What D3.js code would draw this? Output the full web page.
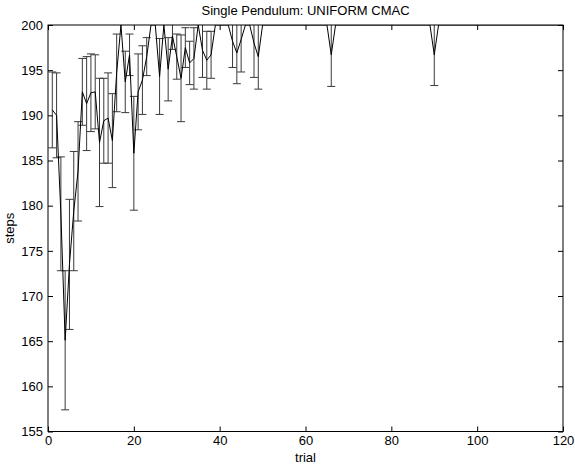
<!DOCTYPE html>
<html>
<head>
<meta charset="utf-8">
<script src="https://cdn.jsdelivr.net/npm/d3@7"></script>
<style>
  html, body { margin: 0; padding: 0; background: #fff; }
  svg text { font-family: "Liberation Sans", Arial, Helvetica, sans-serif; fill: #000; }
</style>
</head>
<body>
<svg id="chart" width="575" height="466"></svg>
<script>
// ---- data ----
const title = "Single Pendulum: UNIFORM CMAC";
const xLabel = "trial";
const yLabel = "steps";
const xTicks = [0, 20, 40, 60, 80, 100, 120];
const yTicks = [155, 160, 165, 170, 175, 180, 185, 190, 195, 200];

// mean steps per trial (trial 1..120)
const meanSteps = [
  190.6, 190.0, 179.1, 165.1, 173.5, 179.4, 183.8, 192.6, 191.3, 192.5,
  192.6, 187.0, 189.4, 189.7, 187.2, 194.7, 200, 193.7, 196.7, 185.8,
  192.6, 193.9, 196.5, 200, 200, 194.3, 200, 195.1, 198.8, 196.5,
  194.1, 197.5, 195.8, 196.3, 200, 197.2, 196.1, 196.7, 200, 200,
  200, 200, 198.2, 196.9, 198.4, 200, 200, 198.0, 196.5, 200,
  200, 200, 200, 200, 200, 200, 200, 200, 200, 200,
  200, 200, 200, 200, 200, 196.7, 200, 200, 200, 200,
  200, 200, 200, 200, 200, 200, 200, 200, 200, 200,
  200, 200, 200, 200, 200, 200, 200, 200, 200, 196.7,
  200, 200, 200, 200, 200, 200, 200, 200, 200, 200,
  200, 200, 200, 200, 200, 200, 200, 200, 200, 200,
  200, 200, 200, 200, 200, 200, 200, 200, 200, 200
];
// error (half bar length) per trial
const errSteps = [
  4.2, 4.7, 6.3, 7.7, 7.2, 6.6, 5.5, 3.7, 5.2, 4.3,
  4.1, 7.1, 4.7, 5.0, 5.2, 4.3, 0, 3.4, 2.3, 6.3,
  4.2, 3.8, 2.1, 0, 0, 4.2, 0, 3.5, 1.5, 2.5,
  4.8, 2.2, 2.4, 3.4, 0, 3.0, 3.2, 2.6, 0, 0,
  0, 0, 2.9, 3.4, 3.6, 0, 0, 3.8, 3.6, 0,
  0, 0, 0, 0, 0, 0, 0, 0, 0, 0,
  0, 0, 0, 0, 0, 3.5, 0, 0, 0, 0,
  0, 0, 0, 0, 0, 0, 0, 0, 0, 0,
  0, 0, 0, 0, 0, 0, 0, 0, 0, 3.4,
  0, 0, 0, 0, 0, 0, 0, 0, 0, 0,
  0, 0, 0, 0, 0, 0, 0, 0, 0, 0,
  0, 0, 0, 0, 0, 0, 0, 0, 0, 0
];

const rows = meanSteps.map((m, i) => ({ trial: i + 1, mean: m, err: errSteps[i] }));

// ---- layout ----
const svg = d3.select("#chart");
const mLeft = 48, mRight = 563, mTop = 25, mBottom = 431.5;
const x = d3.scaleLinear().domain([0, 120]).range([mLeft, mRight]);
const y = d3.scaleLinear().domain([155, 200]).range([mBottom, mTop]);

svg.append("defs").append("clipPath").attr("id", "plotclip")
  .append("rect").attr("x", mLeft).attr("y", mTop)
  .attr("width", mRight - mLeft).attr("height", mBottom - mTop);

const plot = svg.append("g").attr("clip-path", "url(#plotclip)");

// error bars
const capHalf = 4;
const eb = plot.append("g").attr("stroke", "#3a3a3a").attr("stroke-width", 1).attr("fill", "none");
rows.filter(d => d.err > 0).forEach(d => {
  const cx = x(d.trial);
  const y1 = y(d.mean + d.err), y0 = y(d.mean - d.err);
  eb.append("line").attr("x1", cx).attr("x2", cx).attr("y1", y1).attr("y2", y0);
  eb.append("line").attr("x1", cx - capHalf).attr("x2", cx + capHalf).attr("y1", y1).attr("y2", y1);
  eb.append("line").attr("x1", cx - capHalf).attr("x2", cx + capHalf).attr("y1", y0).attr("y2", y0);
});

// mean line
plot.append("path").datum(rows)
  .attr("fill", "none").attr("stroke", "#000").attr("stroke-width", 1)
  .attr("d", d3.line().x(d => x(d.trial)).y(d => y(d.mean)));

// ---- axes (MATLAB-style box with inward ticks on all sides) ----
const tickLen = 5;
const axisG = svg.append("g").attr("stroke", "#000").attr("stroke-width", 1).attr("fill", "none");
axisG.append("rect").attr("x", mLeft).attr("y", mTop).attr("width", mRight - mLeft).attr("height", mBottom - mTop);

const xAxisB = d3.axisBottom(x).tickValues(xTicks).tickSize(-tickLen).tickPadding(4).tickFormat(d3.format("d"));
const xAxisT = d3.axisTop(x).tickValues(xTicks).tickSize(-tickLen).tickFormat("");
const yAxisL = d3.axisLeft(y).tickValues(yTicks).tickSize(-tickLen).tickPadding(5).tickFormat(d3.format("d"));
const yAxisR = d3.axisRight(y).tickValues(yTicks).tickSize(-tickLen).tickFormat("");

function styleAxis(g) {
  g.select(".domain").remove();
  g.selectAll(".tick line").attr("stroke", "#000");
  g.selectAll(".tick text").attr("font-size", 13).attr("font-family", "'Liberation Sans', Arial, sans-serif").attr("fill", "#000");
}
svg.append("g").attr("transform", `translate(0,${mBottom})`).call(xAxisB).call(styleAxis);
svg.append("g").attr("transform", `translate(0,${mTop})`).call(xAxisT).call(styleAxis);
svg.append("g").attr("transform", `translate(${mLeft},0)`).call(yAxisL).call(styleAxis);
svg.append("g").attr("transform", `translate(${mRight},0)`).call(yAxisR).call(styleAxis);

// ---- labels ----
svg.append("text").attr("x", (mLeft + mRight) / 2).attr("y", 15)
  .attr("text-anchor", "middle").attr("font-size", 13).text(title);
svg.append("text").attr("x", (mLeft + mRight) / 2).attr("y", 462)
  .attr("text-anchor", "middle").attr("font-size", 13).text(xLabel);
svg.append("text").attr("transform", `translate(14,${(mTop + mBottom) / 2}) rotate(-90)`)
  .attr("text-anchor", "middle").attr("font-size", 13).text(yLabel);
</script>
</body>
</html>
